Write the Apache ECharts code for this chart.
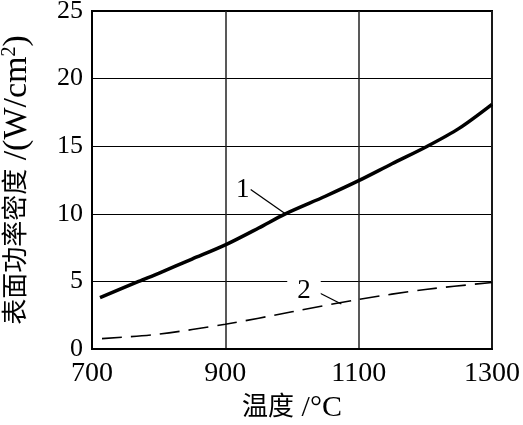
<!DOCTYPE html>
<html>
<head>
<meta charset="utf-8">
<script src="https://cdn.jsdelivr.net/npm/echarts@6/dist/echarts.min.js"></script>
<style>html,body{margin:0;padding:0;background:#fff;}#c{width:523px;height:425px;}</style>
</head>
<body>
<div id="c"></div>
<script>
// Data
var xTicks = [700, 900, 1100, 1300];
var yTicks = [0, 5, 10, 15, 20, 25];
var temps1 = [712, 770, 800, 850, 900, 950, 990, 1050, 1100, 1150, 1203, 1250, 1300];
var power1 = [3.8, 5.0, 5.6, 6.65, 7.7, 8.95, 10.0, 11.3, 12.45, 13.7, 15.0, 16.3, 18.1];
var temps2 = [715, 800, 900, 1000, 1100, 1200, 1300];
var power2 = [0.77, 1.1, 1.83, 2.75, 3.67, 4.4, 4.92];
var curveLabels = ['1', '2'];
var xNameCJK = '温度';
var xNameUnit = ' /°C';
var yNameCJK = '表面功率密度';
var yNameUnit = ' /(W/cm';
var yNameSup = '2';

var FONT = "'Liberation Serif', 'Noto Sans CJK SC', serif";
function pairs(xs, ys) { return xs.map(function (x, i) { return [x, ys[i]]; }); }

var chart = echarts.init(document.getElementById('c'), null, { renderer: 'canvas' });
chart.setOption({
  animation: false,
  backgroundColor: '#fff',
  grid: { left: 92, right: 31, top: 11, bottom: 76, containLabel: false, outerBoundsMode: 'none',
          show: true, borderColor: '#000', borderWidth: 2, backgroundColor: 'transparent' },
  xAxis: {
    type: 'value', min: xTicks[0], max: xTicks[xTicks.length - 1], interval: 200,
    name: '{c|' + xNameCJK + '}{l|' + xNameUnit + '}', nameLocation: 'middle', nameGap: 38,
    nameTextStyle: {
      rich: {
        c: { fontFamily: FONT, fontSize: 26, color: '#000' },
        l: { fontFamily: FONT, fontSize: 30, color: '#000' }
      }
    },
    axisLine: { show: true, lineStyle: { color: '#000', width: 2 } },
    axisTick: { show: false },
    axisLabel: { fontFamily: FONT, fontSize: 28, color: '#000', margin: 11, formatter: function (v) { return String(v); } },
    splitLine: { show: true, lineStyle: { color: '#222', width: 1.5 } }
  },
  yAxis: {
    type: 'value', min: yTicks[0], max: yTicks[yTicks.length - 1], interval: 5,
    name: '{c|' + yNameCJK + '}{a|' + yNameUnit + '}{s|' + yNameSup + '}{a|)}',
    nameLocation: 'middle', nameGap: 58, nameRotate: 90,
    nameTextStyle: {
      rich: {
        c: { fontFamily: FONT, fontSize: 26, color: '#000' },
        a: { fontFamily: FONT, fontSize: 34, color: '#000' },
        s: { fontFamily: FONT, fontSize: 20, color: '#000', verticalAlign: 'top', padding: [0, 0, 14, 0] }
      }
    },
    axisLine: { show: true, lineStyle: { color: '#000', width: 2 } },
    axisTick: { show: false },
    axisLabel: { fontFamily: FONT, fontSize: 26, color: '#000', margin: 9 },
    splitLine: { show: true, lineStyle: { color: '#000', width: 1.2 } }
  },
  series: [
    {
      type: 'line', data: pairs(temps1, power1), smooth: 0.3, showSymbol: false,
      lineStyle: { color: '#000', width: 3.5 },
      markLine: {
        silent: true, symbol: ['none', 'none'], label: { show: false },
        lineStyle: { color: '#000', width: 1.3, type: 'solid' },
        data: [[{ coord: [938, 11.8] }, { coord: [990, 10.0] }]]
      },
      markPoint: {
        symbol: 'circle', symbolSize: 0,
        label: { show: true, formatter: curveLabels[0], fontFamily: FONT, fontSize: 27, color: '#000' },
        data: [{ coord: [926, 11.8] }]
      }
    },
    {
      type: 'line', data: pairs(temps2, power2), smooth: 0.3, showSymbol: false,
      lineStyle: { color: '#000', width: 1.6, type: [20, 9] },
      markLine: {
        silent: true, symbol: ['none', 'none'], label: { show: false },
        lineStyle: { color: '#000', width: 1.3, type: 'solid' },
        data: [[{ coord: [1037, 4.25] }, { coord: [1074, 3.33] }]]
      },
      markPoint: {
        symbol: 'circle', symbolSize: 0,
        label: { show: true, formatter: curveLabels[1], fontFamily: FONT, fontSize: 27, color: '#000',
                 backgroundColor: '#fff', padding: [0, 10, 0, 10] },
        data: [{ coord: [1018, 4.3] }]
      }
    }
  ]
});
</script>
</body>
</html>
